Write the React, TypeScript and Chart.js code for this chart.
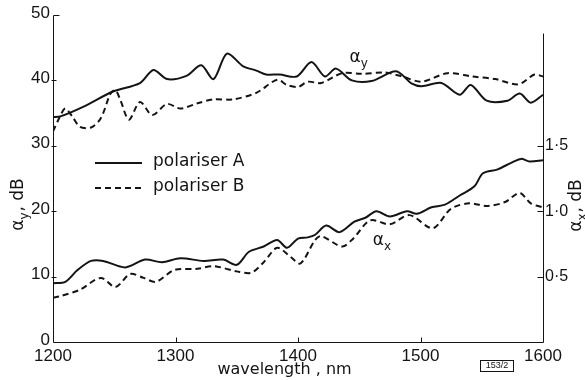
import { useEffect, useRef } from "react";
import { Chart, registerables } from "chart.js";

Chart.register(...registerables);

// ---- axis ticks ----
const xTicks = [1200, 1300, 1400, 1500, 1600];
const leftTicks = [0, 10, 20, 30, 40, 50];
const rightTicks = [0.5, 1.0, 1.5];

// ---- alpha_y (left axis, dB) ----
const aYWavelength = [1200, 1206, 1225, 1249, 1271, 1282, 1293, 1309, 1321, 1331, 1342, 1355, 1366, 1374, 1385, 1399, 1411, 1422, 1431, 1444, 1460, 1480, 1493, 1501, 1517, 1532, 1541, 1554, 1571, 1581, 1590, 1600];
const aYValues = [34.4, 34.5, 36.0, 38.3, 39.6, 41.6, 40.2, 40.7, 42.3, 40.2, 44.1, 42.2, 41.5, 40.9, 40.9, 40.6, 42.8, 40.6, 41.8, 40.0, 39.9, 41.4, 39.5, 39.1, 39.6, 37.8, 39.3, 36.9, 36.9, 38.0, 36.6, 37.8];

const bYWavelength = [1200, 1205, 1210, 1216, 1222, 1231, 1239, 1247, 1251, 1255, 1262, 1271, 1281, 1293, 1304, 1318, 1331, 1347, 1366, 1383, 1391, 1400, 1408, 1419, 1436, 1452, 1471, 1485, 1501, 1522, 1542, 1561, 1580, 1593, 1600];
const bYValues = [32.2, 34.2, 35.7, 34.4, 32.9, 32.8, 34.2, 38.0, 38.5, 37.0, 34.0, 36.7, 34.7, 36.4, 35.7, 36.5, 37.1, 37.1, 38.1, 40.1, 39.3, 39.0, 39.8, 39.6, 41.1, 41.0, 41.2, 40.6, 39.8, 41.1, 40.6, 40.2, 39.4, 40.9, 40.6];

// ---- alpha_x (right axis, dB) ----
const aXWavelength = [1200, 1210, 1220, 1231, 1241, 1259, 1275, 1289, 1304, 1323, 1339, 1350, 1360, 1372, 1383, 1391, 1400, 1408, 1414, 1423, 1434, 1446, 1455, 1464, 1475, 1489, 1497, 1509, 1520, 1532, 1544, 1551, 1563, 1574, 1582, 1589, 1600];
const aXValues = [0.45, 0.46, 0.55, 0.62, 0.62, 0.57, 0.63, 0.61, 0.64, 0.62, 0.63, 0.59, 0.69, 0.73, 0.78, 0.72, 0.79, 0.80, 0.82, 0.89, 0.84, 0.92, 0.95, 1.00, 0.96, 1.00, 0.98, 1.03, 1.05, 1.12, 1.19, 1.29, 1.32, 1.37, 1.40, 1.38, 1.39];

const bXWavelength = [1200, 1206, 1222, 1239, 1251, 1263, 1274, 1284, 1299, 1318, 1331, 1350, 1362, 1372, 1383, 1394, 1402, 1414, 1419, 1436, 1445, 1459, 1475, 1491, 1510, 1525, 1540, 1555, 1569, 1581, 1590, 1600];
const bXValues = [0.34, 0.35, 0.40, 0.49, 0.42, 0.52, 0.49, 0.46, 0.55, 0.56, 0.58, 0.54, 0.53, 0.61, 0.72, 0.65, 0.60, 0.78, 0.81, 0.73, 0.79, 0.93, 0.90, 0.97, 0.87, 1.02, 1.06, 1.04, 1.07, 1.14, 1.06, 1.03];

const legendLabels = ["polariser A", "polariser B"];

const INK = "#141414";
const SANS = "'DejaVu Sans', sans-serif";
const TICKFONT = "'Liberation Sans', Arial, sans-serif";
const DASH = [6, 4];

function pts(xs: number[], ys: number[]) {
  return xs.map((x, i) => ({ x, y: ys[i] }));
}

function subText(
  ctx: CanvasRenderingContext2D,
  x: number,
  y: number,
  main: string,
  sub: string,
  rest: string,
  size: number,
  center: boolean
) {
  const small = Math.round(size * 0.72);
  ctx.font = `${size}px ${SANS}`;
  const w1 = ctx.measureText(main).width;
  const w3 = ctx.measureText(rest).width;
  ctx.font = `${small}px ${SANS}`;
  const w2 = ctx.measureText(sub).width;
  const total = w1 + w2 + 1 + w3;
  const sx = center ? x - total / 2 : x;
  ctx.textAlign = "left";
  ctx.textBaseline = "alphabetic";
  ctx.font = `${size}px ${SANS}`;
  ctx.fillText(main, sx, y);
  ctx.font = `${small}px ${SANS}`;
  ctx.fillText(sub, sx + w1, y + size * 0.3);
  ctx.font = `${size}px ${SANS}`;
  ctx.fillText(rest, sx + w1 + w2 + 1, y);
}

const decor = {
  id: "decor",
  afterDraw(chart: any) {
    const { ctx, chartArea: ca, scales } = chart;
    const sx = scales.x;
    const sy = scales.y;
    const sy2 = scales.y2;
    const c = (v: number) => Math.round(v) + 0.5;
    ctx.save();
    ctx.strokeStyle = INK;
    ctx.fillStyle = INK;
    ctx.lineWidth = 1;

    const line = (x1: number, y1: number, x2: number, y2: number) => {
      ctx.beginPath();
      ctx.moveTo(x1, y1);
      ctx.lineTo(x2, y2);
      ctx.stroke();
    };

    // left axis with top corner
    const top = c(sy.getPixelForValue(50));
    line(c(ca.left), top, c(ca.left), c(ca.bottom));
    line(c(ca.left), top, c(ca.left) + 6, top);
    // bottom axis
    line(c(ca.left), c(ca.bottom), c(ca.right), c(ca.bottom));
    // right axis (starts below the top)
    line(c(ca.right), c(sy2.getPixelForValue(2.36)), c(ca.right), c(ca.bottom));

    // inner ticks
    [1300, 1400, 1500].forEach((v) => {
      const px = c(sx.getPixelForValue(v));
      line(px, c(ca.bottom), px, c(ca.bottom) - 5);
    });
    [10, 20, 30, 40].forEach((v) => {
      const py = c(sy.getPixelForValue(v));
      line(c(ca.left) - 2, py, c(ca.left) + 3, py);
    });
    rightTicks.forEach((v) => {
      const py = c(sy2.getPixelForValue(v));
      line(c(ca.right) - 6, py, c(ca.right), py);
    });

    // legend
    const lx1 = ca.left + 42;
    const lx2 = ca.left + 89;
    const ly1 = ca.top + 148;
    const ly2 = ca.top + 173;
    ctx.lineWidth = 2;
    ctx.setLineDash([]);
    line(lx1, ly1, lx2, ly1);
    ctx.setLineDash(DASH);
    line(lx1, ly2, lx2, ly2);
    ctx.setLineDash([]);
    ctx.lineWidth = 1;
    ctx.font = `17px ${SANS}`;
    ctx.textAlign = "left";
    ctx.textBaseline = "middle";
    ctx.fillText(legendLabels[0], lx2 + 11, ly1 - 1);
    ctx.fillText(legendLabels[1], lx2 + 11, ly2 - 1);

    // x axis title
    ctx.font = `16px ${SANS}`;
    ctx.textAlign = "center";
    ctx.textBaseline = "alphabetic";
    ctx.fillText("wavelength , nm", sx.getPixelForValue(1389), ca.bottom + 32);

    // left axis title (rotated)
    ctx.save();
    ctx.translate(17, (ca.top + ca.bottom) / 2 + 26);
    ctx.rotate(-Math.PI / 2);
    subText(ctx, 0, 6, "α", "y", ", dB", 17, true);
    ctx.restore();

    // right axis title (rotated)
    ctx.save();
    ctx.translate(575, (ca.top + ca.bottom) / 2 + 27);
    ctx.rotate(-Math.PI / 2);
    subText(ctx, 0, 6, "α", "x", ", dB", 17, true);
    ctx.restore();

    // curve annotations
    subText(ctx, sx.getPixelForValue(1442), sy.getPixelForValue(42.8), "α", "y", "", 17, false);
    subText(ctx, sx.getPixelForValue(1461), sy2.getPixelForValue(0.74), "α", "x", "", 17, false);

    // figure number box
    const bx = ca.right - 63;
    const by = ca.bottom + 18;
    ctx.strokeRect(c(bx), c(by), 33, 11);
    ctx.font = `9px ${TICKFONT}`;
    ctx.textAlign = "center";
    ctx.textBaseline = "middle";
    ctx.fillText("153/2", bx + 17, by + 6);

    ctx.restore();
  },
};

export default function App() {
  const ref = useRef<HTMLCanvasElement | null>(null);

  useEffect(() => {
    if (!ref.current) return;
    const common = {
      borderColor: INK,
      borderWidth: 2,
      pointRadius: 0,
      tension: 0.3,
      fill: false,
    };
    const chart = new Chart(ref.current, {
      type: "line",
      data: {
        datasets: [
          { ...common, label: "A y", data: pts(aYWavelength, aYValues), yAxisID: "y" },
          { ...common, label: "B y", data: pts(bYWavelength, bYValues), yAxisID: "y", borderDash: DASH },
          { ...common, label: "A x", data: pts(aXWavelength, aXValues), yAxisID: "y2" },
          { ...common, label: "B x", data: pts(bXWavelength, bXValues), yAxisID: "y2", borderDash: DASH },
        ],
      },
      options: {
        responsive: false,
        animation: false,
        layout: { padding: { top: 15, left: 0, right: 0, bottom: 0 } },
        plugins: {
          legend: { display: false },
          tooltip: { enabled: false },
        },
        scales: {
          x: {
            type: "linear",
            min: 1200,
            max: 1600,
            afterBuildTicks: (s: any) => {
              s.ticks = xTicks.map((v) => ({ value: v }));
            },
            afterFit: (s: any) => {
              s.height = 38;
            },
            grid: { display: false, drawTicks: false },
            border: { display: false },
            ticks: {
              color: INK,
              padding: 4,
              maxRotation: 0,
              autoSkip: false,
              font: { family: TICKFONT, size: 17 },
              callback: (v: any) => String(v),
            },
          },
          y: {
            position: "left",
            min: 0,
            max: 50,
            afterBuildTicks: (s: any) => {
              s.ticks = leftTicks.map((v) => ({ value: v }));
            },
            afterFit: (s: any) => {
              s.width = 53;
            },
            grid: { display: false, drawTicks: false },
            border: { display: false },
            ticks: {
              color: INK,
              padding: 3,
              labelOffset: -2,
              font: { family: TICKFONT, size: 17 },
              callback: (v: any) => String(v),
            },
          },
          y2: {
            position: "right",
            min: 0,
            max: 2.5,
            afterBuildTicks: (s: any) => {
              s.ticks = rightTicks.map((v) => ({ value: v }));
            },
            afterFit: (s: any) => {
              s.width = 42;
            },
            grid: { display: false, drawTicks: false },
            border: { display: false },
            ticks: {
              color: INK,
              padding: 2,
              font: { family: TICKFONT, size: 16 },
              callback: (v: any) => Number(v).toFixed(1).replace(".", "·"),
            },
          },
        },
      },
      plugins: [decor],
    });
    return () => chart.destroy();
  }, []);

  return (
    <div style={{ position: "fixed", left: 0, top: 0, width: 585, height: 380, background: "#fff" }}>
      <canvas ref={ref} width={585} height={380} style={{ display: "block" }} />
    </div>
  );
}
